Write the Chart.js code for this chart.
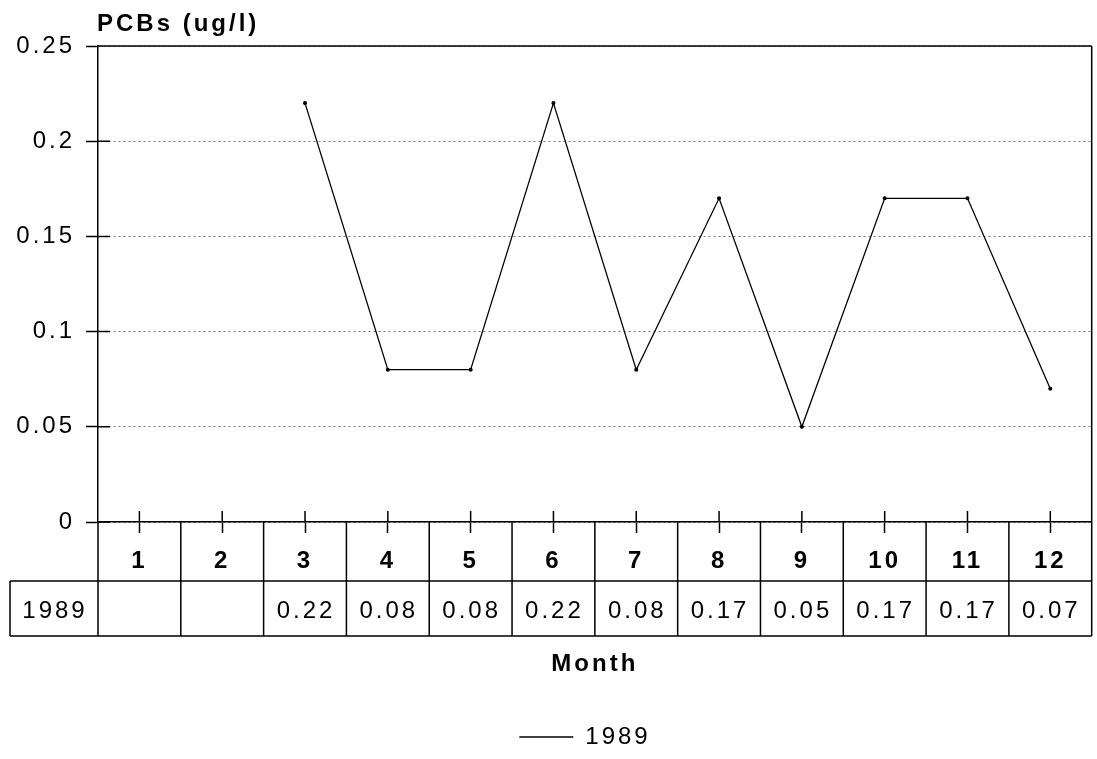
<!DOCTYPE html>
<html>
<head>
<meta charset="utf-8">
<title>PCBs 1989</title>
<script src="https://cdn.jsdelivr.net/npm/chart.js@4/dist/chart.umd.min.js"></script>
<style>
  html, body { margin: 0; padding: 0; background: #fff; }
  #wrap { width: 1097px; height: 759px; position: relative; }
</style>
</head>
<body>
<div id="wrap"><canvas id="chart"></canvas></div>
<script>
// data
const months = ['1','2','3','4','5','6','7','8','9','10','11','12'];
const series1989 = [null, null, 0.22, 0.08, 0.08, 0.22, 0.08, 0.17, 0.05, 0.17, 0.17, 0.07];
const seriesName = '1989';
const yTicks = [0, 0.05, 0.1, 0.15, 0.2, 0.25];

const FONT = '"Liberation Sans", Arial, Helvetica, sans-serif';

// letter-spaced type like the plotter output
const spacing = {
  id: 'spacing',
  beforeLayout(chart) { chart.ctx.letterSpacing = '3px'; },
  afterLayout(chart) {
    // legend sits a bit right of centre in the original
    if (chart.legend) chart.legend.left = 76;
  },
  beforeDraw(chart) { chart.ctx.letterSpacing = '3px'; }
};

// frame, crossing ticks, data table, y title
const table = {
  id: 'table',
  afterDraw(chart) {
    const ctx = chart.ctx;
    const a = chart.chartArea;
    const x = chart.scales.x;
    const y = chart.scales.y;
    const w = x.getPixelForValue(1) - x.getPixelForValue(0);
    const rowTop = a.bottom + 59;
    const rowBot = a.bottom + 114;
    const labelLeft = 10;
    ctx.save();
    ctx.letterSpacing = '3px';
    ctx.strokeStyle = '#000';
    ctx.lineWidth = 1.5;
    ctx.beginPath();
    // top + right frame
    ctx.moveTo(a.left, a.top); ctx.lineTo(a.right, a.top);
    ctx.moveTo(a.right, a.top); ctx.lineTo(a.right, rowBot);
    // y axis continues down through the table
    ctx.moveTo(a.left, a.bottom); ctx.lineTo(a.left, rowBot);
    // table rows
    ctx.moveTo(labelLeft, rowTop); ctx.lineTo(a.right, rowTop);
    ctx.moveTo(labelLeft, rowBot); ctx.lineTo(a.right, rowBot);
    ctx.moveTo(labelLeft, rowTop); ctx.lineTo(labelLeft, rowBot);
    for (let i = 1; i < months.length; i++) {
      const bx = x.getPixelForValue(i) - w / 2;
      ctx.moveTo(bx, a.bottom); ctx.lineTo(bx, rowBot);
    }
    // inward halves of the ticks
    months.forEach((m, i) => {
      const px = x.getPixelForValue(i);
      ctx.moveTo(px, a.bottom); ctx.lineTo(px, a.bottom - 11);
    });
    yTicks.forEach(v => {
      const py = y.getPixelForValue(v);
      ctx.moveTo(a.left, py); ctx.lineTo(a.left + 12, py);
    });
    ctx.stroke();

    ctx.fillStyle = '#000';
    ctx.textAlign = 'center';
    ctx.textBaseline = 'middle';
    ctx.font = '24px ' + FONT;
    const cy = (rowTop + rowBot) / 2 + 3;
    ctx.fillText(seriesName, (labelLeft + a.left) / 2 + 1, cy);
    series1989.forEach((v, i) => {
      if (v == null) return;
      ctx.fillText(v.toFixed(2), x.getPixelForValue(i) + 1, cy);
    });

    ctx.textAlign = 'left';
    ctx.textBaseline = 'alphabetic';
    ctx.font = 'bold 24px ' + FONT;
    ctx.fillText('PCBs (ug/l)', a.left - 1, 31);
    ctx.restore();
  }
};

new Chart(document.getElementById('chart'), {
  type: 'line',
  data: {
    labels: months,
    datasets: [{
      label: seriesName,
      data: series1989,
      borderColor: '#000',
      backgroundColor: '#000',
      borderWidth: 1.3,
      pointRadius: 1.4,
      pointBorderWidth: 1.3,
      pointBorderColor: '#000',
      pointBackgroundColor: '#000',
      tension: 0,
      spanGaps: false
    }]
  },
  options: {
    responsive: true,
    maintainAspectRatio: false,
    animation: false,
    devicePixelRatio: 1,
    layout: { padding: { left: 0, right: 3, top: 46, bottom: 0 } },
    plugins: {
      tooltip: { enabled: false },
      legend: {
        position: 'bottom',
        labels: {
          color: '#000',
          font: { family: FONT, size: 24 },
          usePointStyle: true,
          pointStyle: 'line',
          pointStyleWidth: 54,
          padding: 10
        }
      }
    },
    scales: {
      x: {
        offset: true,
        grid: { offset: false, drawOnChartArea: false, drawTicks: true, tickLength: 11, tickColor: '#000', tickWidth: 1.5 },
        border: { display: true, color: '#000', width: 1.5 },
        ticks: { color: '#000', font: { family: FONT, size: 24, weight: 'bold' }, padding: 14, maxRotation: 0, autoSkip: false },
        title: { display: true, text: 'Month', color: '#000', font: { family: FONT, size: 24, weight: 'bold' }, padding: { top: 0, bottom: 36 } },
        afterFit(s) { s.height = 193; }
      },
      y: {
        min: 0,
        max: 0.25,
        afterBuildTicks(s) { s.ticks = yTicks.map(v => ({ value: v })); },
        grid: { color: '#777', lineWidth: 1, drawTicks: true, tickLength: 12, tickColor: '#000', tickWidth: 1.5 },
        border: { display: true, color: '#000', width: 1.5, dash: [2, 3] },
        ticks: {
          color: '#000',
          font: { family: FONT, size: 24 },
          padding: 11,
          callback: v => String(+Number(v).toFixed(2))
        },
        afterFit(s) { s.width = 98; }
      }
    }
  },
  plugins: [spacing, table]
});
</script>
</body>
</html>
